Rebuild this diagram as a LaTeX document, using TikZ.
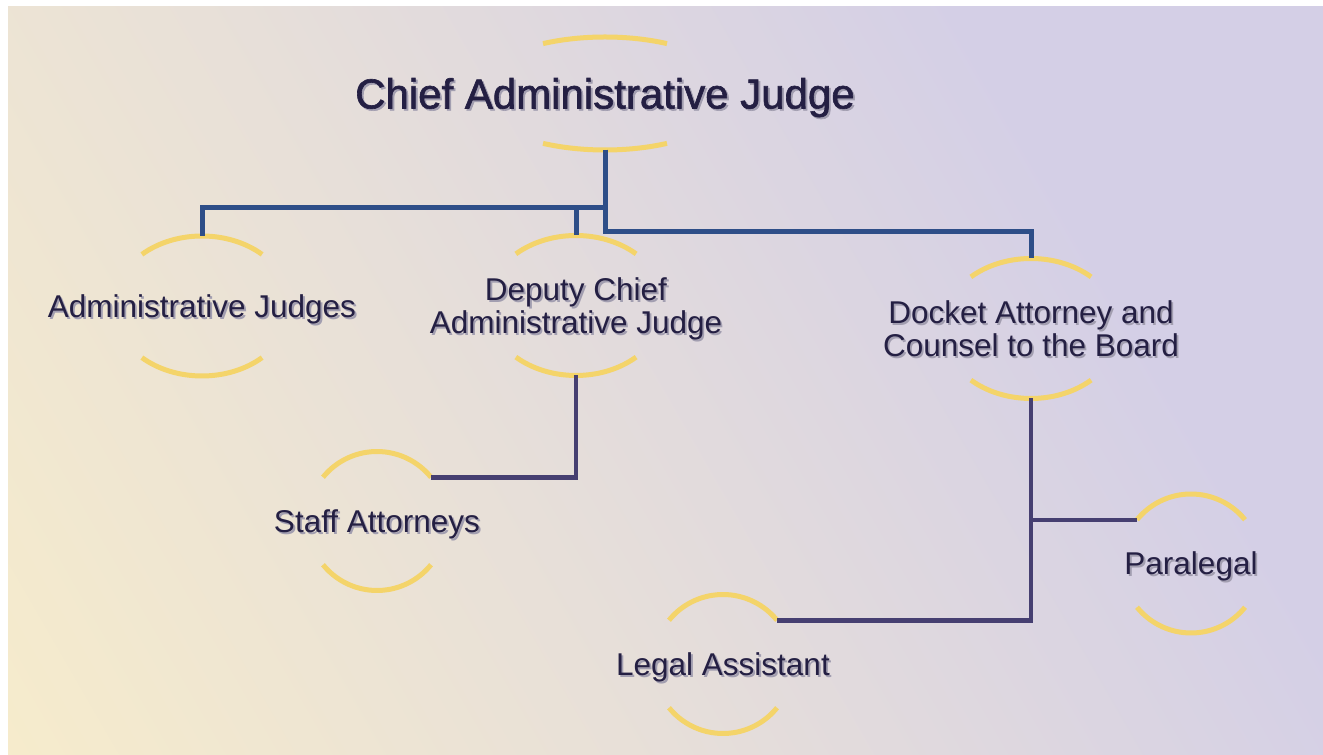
\documentclass[tikz,border=0pt]{standalone}
\usepackage{fontspec}
\setmainfont{Liberation Sans}
\newfontfamily\headfont{Liberation Sans}[FakeBold=1.5]
\definecolor{bgyellow}{HTML}{FFF3C4}
\definecolor{bgmid}{HTML}{E8E0D8}
\definecolor{bglav}{HTML}{D4CFE6}
\definecolor{ringyellow}{HTML}{F4D46A}
\definecolor{lineblue}{HTML}{2E4E88}
\definecolor{linepurple}{HTML}{463F71}
\definecolor{txt}{HTML}{241F43}
\definecolor{txtshadow}{HTML}{A29EB0}
\pgfdeclarehorizontalshading{bgshade}{100bp}{color(0bp)=(bgyellow); color(40bp)=(bgmid); color(70bp)=(bglav); color(100bp)=(bglav)}
\newcommand{\shtext}[1]{\strut\makebox[0pt][l]{\hspace{1.8pt}\raisebox{-1.8pt}{\textcolor{txtshadow}{#1}}}#1}
\tikzset{
  unit/.style = {text=txt, align=center, font=\fontsize{31.5}{33}\selectfont, yshift=-4.7pt},
  head/.style = {text=txt, font=\headfont\fontsize{42}{46}\selectfont, yshift=-5.8pt},
  ring/.style = {draw=ringyellow, line width=5pt},
  upline/.style = {draw=lineblue, line width=5pt},
  lowline/.style = {draw=linepurple, line width=4.5pt}
}
\begin{document}
\begin{tikzpicture}[x=1pt, y=1pt]
  \fill[white] (0,0) rectangle (1323,755);
  \shade[shading=bgshade, shading angle=30] (8,0) rectangle (1323,748);
  \useasboundingbox (0,0) rectangle (1323,755);

  \node[head] (chief) at (605,661.5) {\shtext{Chief Administrative Judge}};
  \node[unit] (adm) at (202,449) {\shtext{Administrative Judges}};
  \node[unit] (dep) at (576,449.5) {\shtext{Deputy Chief}\\\shtext{Administrative Judge}};
  \node[unit] (dock) at (1031,426.5) {\shtext{Docket Attorney and}\\\shtext{Counsel to the Board}};
  \node[unit] (staff) at (377,234) {\shtext{Staff Attorneys}};
  \node[unit] (para) at (1191,191.5) {\shtext{Paralegal}};
  \node[unit] (legal) at (723,91) {\shtext{Legal Assistant}};

  \coordinate (chief-c) at ([yshift=5.8pt]chief.center);
  \coordinate (chief-b) at ([yshift=-56.5pt]chief-c);
  \draw[ring] ([shift={(62:132pt and 56.5pt)}]chief-c) arc[start angle=62, end angle=118, x radius=132pt, y radius=56.5pt];
  \draw[ring] ([shift={(242:132pt and 56.5pt)}]chief-c) arc[start angle=242, end angle=298, x radius=132pt, y radius=56.5pt];

  \foreach \n/\rx/\ry/\ang in {adm/89/70/47.5, dep/89/70/47.5, dock/89/70/47.5,
      staff/69.5/69.5/39, para/69.5/69.5/39, legal/69.5/69.5/39} {
    \coordinate (\n-c) at ([yshift=4.7pt]\n.center);
    \coordinate (\n-t) at ([yshift=\ry pt]\n-c);
    \coordinate (\n-b) at ([yshift=-\ry pt]\n-c);
    \coordinate (\n-r) at ([shift={(\ang:\rx pt and \ry pt)}]\n-c);
    \coordinate (\n-l) at ([shift={(180-\ang:\rx pt and \ry pt)}]\n-c);
    \draw[ring] (\n-r) arc[start angle=\ang, end angle=180-\ang, x radius=\rx pt, y radius=\ry pt];
    \draw[ring] ([shift={(180+\ang:\rx pt and \ry pt)}]\n-c) arc[start angle=180+\ang, end angle=360-\ang, x radius=\rx pt, y radius=\ry pt];
  }

  \draw[upline] (chief-b) -- ++(0,-58) -| (adm-t);
  \draw[upline] (chief-b) -- ++(0,-58) -| (dep-t);
  \draw[upline] (chief-b) -- ++(0,-82) -| (dock-t);
  \draw[lowline] (dep-b) |- (staff-r);
  \draw[lowline] (dock-b) |- (para-l);
  \draw[lowline] (dock-b) |- (legal-r);
\end{tikzpicture}
\end{document}
